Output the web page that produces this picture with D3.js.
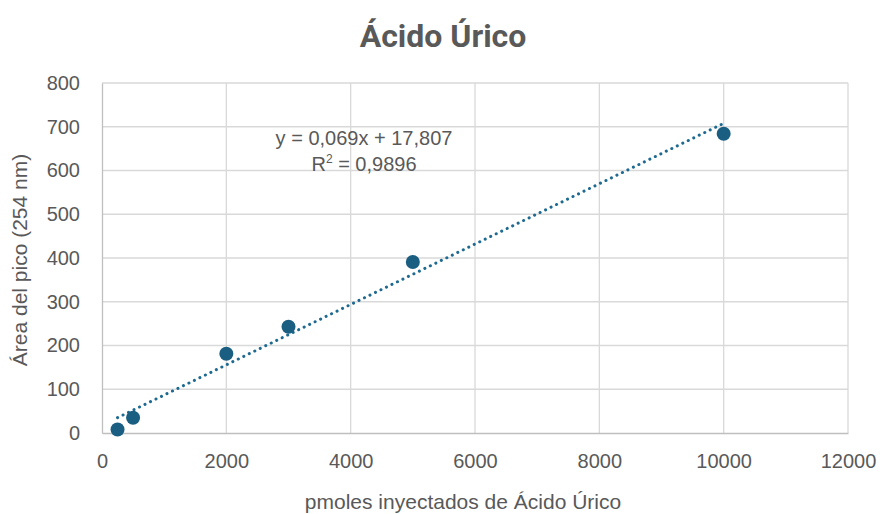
<!DOCTYPE html>
<html>
<head>
<meta charset="utf-8">
<script src="https://cdn.jsdelivr.net/npm/d3@7"></script>
<style>
  body { margin: 0; background: #fff; }
  text { font-family: "Liberation Sans", Arial, sans-serif; fill: #595959; }
</style>
</head>
<body>
<svg id="viz" width="880" height="514"></svg>
<script>
// data
var pmoles = [250, 500, 2000, 3000, 5000, 10000];
var area = [8, 35, 181, 243, 391, 684];
var xTicks = [0, 2000, 4000, 6000, 8000, 10000, 12000];
var yTicks = [0, 100, 200, 300, 400, 500, 600, 700, 800];
var slope = 0.069, intercept = 17.807;

var svg = d3.select("#viz");
var margin = { top: 83, right: 32, bottom: 81, left: 102 };
var w = 880 - margin.left - margin.right,
    h = 514 - margin.top - margin.bottom;

var xScale = d3.scaleLinear().domain([0, 12000]).range([0, w]),
    yScale = d3.scaleLinear().domain([0, 800]).range([h, 0]);

var g = svg.append("g")
    .attr("transform", "translate(" + margin.left + "," + margin.top + ")");

// gridlines
g.append("g").selectAll("line").data(yTicks.slice(1)).enter().append("line")
    .attr("x1", 0).attr("x2", w)
    .attr("y1", function (d) { return yScale(d); })
    .attr("y2", function (d) { return yScale(d); })
    .attr("stroke", "#d9d9d9").attr("stroke-width", 1.3);
g.append("g").selectAll("line").data(xTicks.slice(1)).enter().append("line")
    .attr("y1", 0).attr("y2", h)
    .attr("x1", function (d) { return xScale(d); })
    .attr("x2", function (d) { return xScale(d); })
    .attr("stroke", "#d9d9d9").attr("stroke-width", 1.3);

// axes
var xAxis = d3.axisBottom(xScale).tickValues(xTicks).tickFormat(d3.format("d"))
    .tickSize(0).tickPadding(21);
var yAxis = d3.axisLeft(yScale).tickValues(yTicks).tickFormat(d3.format("d"))
    .tickSize(0).tickPadding(22);

var gx = g.append("g").attr("transform", "translate(0," + h + ")").call(xAxis);
var gy = g.append("g").call(yAxis);
[gx, gy].forEach(function (a) {
    a.select(".domain").attr("stroke", "#bfbfbf").attr("stroke-width", 1.3);
    a.selectAll("text").style("font-size", "20px").attr("fill", "#595959")
        .style("font-family", "Liberation Sans, Arial, sans-serif");
});

// trendline
var fit = [d3.min(pmoles), d3.max(pmoles)];
g.append("line")
    .attr("x1", xScale(fit[0])).attr("y1", yScale(slope * fit[0] + intercept))
    .attr("x2", xScale(fit[1])).attr("y2", yScale(slope * fit[1] + intercept))
    .attr("stroke", "#1f6a90").attr("stroke-width", 3)
    .attr("stroke-dasharray", "0.1 6").attr("stroke-linecap", "round");

// points
g.selectAll(".dot").data(pmoles).enter().append("circle")
    .attr("class", "dot")
    .attr("cx", function (d) { return xScale(d); })
    .attr("cy", function (d, i) { return yScale(area[i]); })
    .attr("r", 7)
    .attr("fill", "#1a5e82");

// equation
var eq = svg.append("text").attr("x", 364).attr("y", 145)
    .attr("text-anchor", "middle").style("font-size", "20px");
eq.text("y = 0,069x + 17,807");
var r2 = svg.append("text").attr("x", 364).attr("y", 171)
    .attr("text-anchor", "middle").style("font-size", "20px");
r2.append("tspan").text("R");
r2.append("tspan").attr("dy", -8).style("font-size", "12px").text("2");
r2.append("tspan").attr("dy", 8).text(" = 0,9896");

// title + axis labels
svg.append("text").attr("x", 443).attr("y", 47)
    .attr("text-anchor", "middle")
    .style("font-family", "Liberation Sans Narrow, Roboto, sans-serif")
    .style("font-size", "32px").style("font-weight", "bold")
    .text("Ácido Úrico");
svg.append("text").attr("x", 463).attr("y", 509)
    .attr("text-anchor", "middle").style("font-size", "21px")
    .text("pmoles inyectados de Ácido Úrico");
svg.append("text")
    .attr("transform", "translate(27,260) rotate(-90)")
    .attr("text-anchor", "middle").style("font-size", "21px")
    .text("Área del pico (254 nm)");
</script>
</body>
</html>
